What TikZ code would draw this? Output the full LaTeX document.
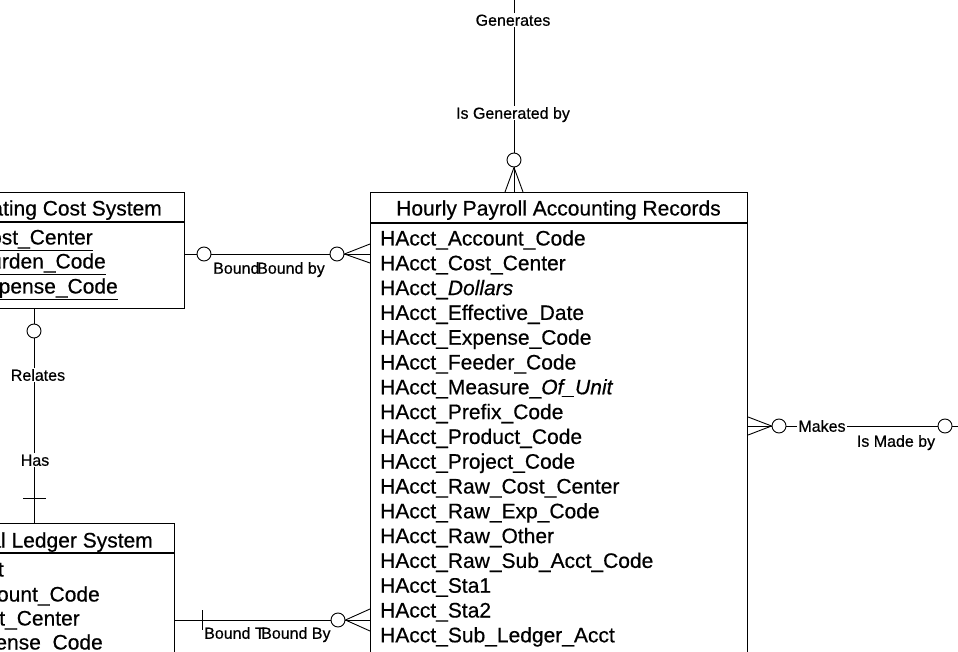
\documentclass[tikz,border=0pt]{standalone}
\usepackage{fontspec}
\setmainfont{Liberation Sans}[FakeBold=0.5]
\usetikzlibrary{calc}
\begin{document}
\begin{tikzpicture}[x=1pt,y=-1pt,
  entbox/.style={draw,line width=1.1pt,inner sep=0pt,anchor=north west},
  fieldtxt/.style={inner sep=0pt,font=\fontsize{21}{24}\selectfont,text height=15pt,text depth=0pt},
  reltxt/.style={inner sep=1pt,font=\fontsize{16}{19}\selectfont,text height=11.5pt,text depth=0pt},
  rellabel/.style={reltxt,fill=white},
  opt/.style={circle,draw,line width=0.9pt,fill=white,minimum size=14pt,inner sep=0pt},
  conn/.style={line width=0.9pt},
  sep/.style={line width=1.1pt}]
\useasboundingbox (0,0) rectangle (958,652);
\clip (0,0) rectangle (958,652);

% ---------- entity boxes ----------
\node[entbox,minimum width=224pt,minimum height=116pt] (ocs) at (-40,192) {};
\draw[sep] (ocs.west |- 0,222) -- (ocs.east |- 0,222);
\node[fieldtxt,anchor=east] (ocstitle) at (162,208) {ating Cost System};
\node[fieldtxt,anchor=east] (ocs1) at (93,237) {\underline{ost\_Center}};
\node[fieldtxt,anchor=east] (ocs2) at (106,261) {\underline{urden\_Code}};
\node[fieldtxt,anchor=east] (ocs3) at (118,286) {\underline{xpense\_Code}};

\node[entbox,minimum width=214pt,minimum height=180pt] (gls) at (-40,523) {};
\draw[sep] (gls.west |- 0,553) -- (gls.east |- 0,553);
\node[fieldtxt,anchor=east] (glstitle) at (153,540) {al Ledger System};
\node[fieldtxt,anchor=east] (gls0) at (4,569) {t};
\node[fieldtxt,anchor=east] (gls1) at (100,594) {ount\_Code};
\node[fieldtxt,anchor=east] (gls2) at (80,618) {st\_Center};
\node[fieldtxt,anchor=east] (gls3) at (103,642) {ense\_Code};

\node[entbox,minimum width=377pt,minimum height=520pt] (hpar) at (370,192) {};
\draw[sep] (hpar.west |- 0,223) -- (hpar.east |- 0,223);
\node[fieldtxt] (hpartitle) at (558.5,208) {Hourly Payroll Accounting Records};
\foreach \f [count=\i from 0] in {
  HAcct\_Account\_Code,
  HAcct\_Cost\_Center,
  HAcct\_\textit{Dollars},
  HAcct\_Effective\_Date,
  HAcct\_Expense\_Code,
  HAcct\_Feeder\_Code,
  HAcct\_Measure\_\textit{Of\_Unit},
  HAcct\_Prefix\_Code,
  HAcct\_Product\_Code,
  HAcct\_Project\_Code,
  HAcct\_Raw\_Cost\_Center,
  HAcct\_Raw\_Exp\_Code,
  HAcct\_Raw\_Other,
  HAcct\_Raw\_Sub\_Acct\_Code,
  HAcct\_Sta1,
  HAcct\_Sta2,
  HAcct\_Sub\_Ledger\_Acct}
  \node[fieldtxt,anchor=west] (hrow\i) at (380,238+24.8*\i) {\f};

% ---------- top relationship: Generates / Is Generated by ----------
\coordinate (topend) at (514,0);
\node[opt] (cg) at (514,160) {};
\draw[conn] (topend) -- (cg);
\node[rellabel] (lgen) at (513,20) {Generates};
\node[rellabel] (lisgen) at (513,113) {Is Generated by};
\draw[conn] (cg.south) -- ($(cg |- hpar.north)+(-9,0)$);
\draw[conn] (cg.south) -- (cg |- hpar.north);
\draw[conn] (cg.south) -- ($(cg |- hpar.north)+(9,0)$);

% ---------- operating cost system -- hourly payroll ----------
\node[opt] (c1) at (204,254) {};
\node[opt] (c2) at (337,254) {};
\draw[conn] (ocs.east |- c1) -- (c1) -- (c2);
\draw[conn] (c2.east) -- ($(hpar.west |- c2)+(0,-10)$);
\draw[conn] (c2.east) -- (hpar.west |- c2);
\draw[conn] (c2.east) -- ($(hpar.west |- c2)+(0,9)$);
\node[reltxt,anchor=west] (lb1) at (212,268) {Bound};
\node[reltxt,anchor=west] (lb2) at (256,268) {Bound by};

% ---------- operating cost system -- general ledger ----------
\node[opt] (c3) at (34,331) {};
\draw[conn] (c3 |- ocs.south) -- (c3);
\draw[conn] (c3) -- (c3 |- gls.north);
\node[rellabel] (lrel) at (38,375) {Relates};
\node[rellabel] (lhas) at (35,460) {Has};
\draw[conn] (23,498) -- (46,498);

% ---------- general ledger -- hourly payroll ----------
\node[opt] (c4) at (338,620) {};
\draw[conn] (gls.east |- c4) -- (c4);
\draw[conn] (202,610) -- (202,630);
\draw[conn] (c4.east) -- ($(hpar.west |- c4)+(0,-11)$);
\draw[conn] (c4.east) -- (hpar.west |- c4);
\draw[conn] (c4.east) -- ($(hpar.west |- c4)+(0,11)$);
\node[reltxt,anchor=west] (lb3) at (203,633) {Bound T};
\node[reltxt,anchor=west] (lb4) at (260,633) {Bound By};

% ---------- hourly payroll -- Makes / Is Made by ----------
\node[opt] (c5) at (779,426) {};
\node[opt] (c6) at (945,426) {};
\coordinate (rightend) at (958,426);
\draw[conn] (c5) -- (c6) -- (rightend);
\draw[conn] (c5.west) -- ($(hpar.east |- c5)+(0,-9)$);
\draw[conn] (c5.west) -- (hpar.east |- c5);
\draw[conn] (c5.west) -- ($(hpar.east |- c5)+(0,9)$);
\node[rellabel] (lmakes) at (822,426) {Makes};
\node[reltxt] (lmade) at (896,441) {Is Made by};
\end{tikzpicture}
\end{document}
